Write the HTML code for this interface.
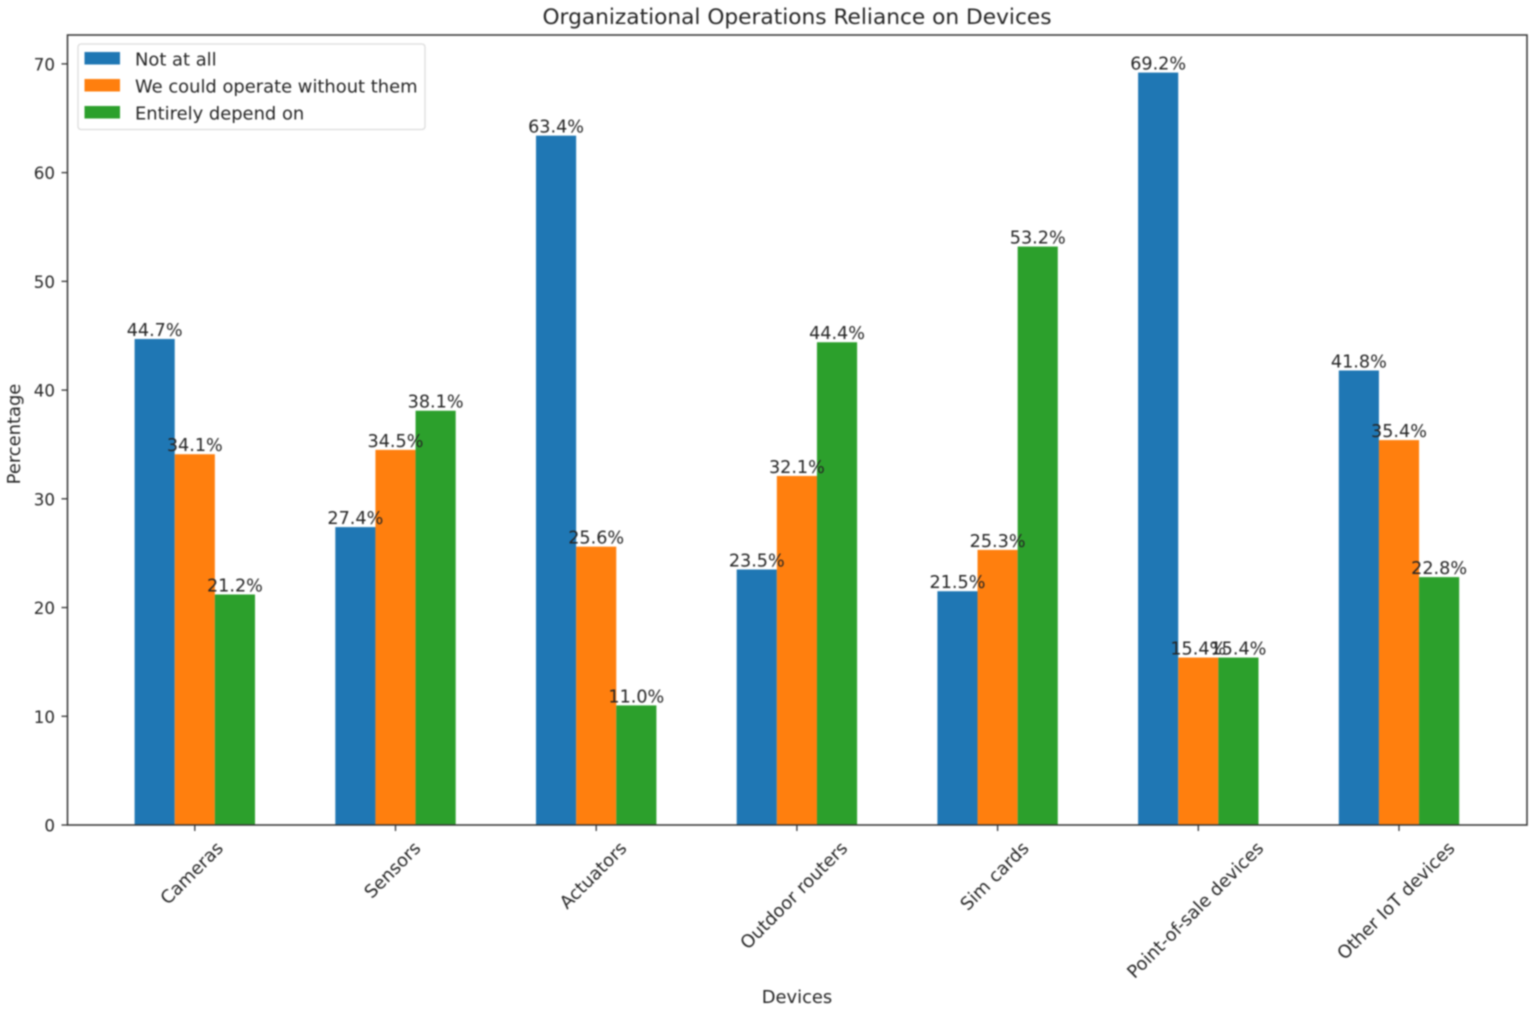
<!DOCTYPE html>
<html lang="en">
<head>
<meta charset="utf-8">
<title>Organizational Operations Reliance on Devices</title>
<style>
html,body{margin:0;padding:0;background:#fff;width:1535px;height:1012px;overflow:hidden}
svg{display:block;font-family:"DejaVu Sans","Liberation Sans",sans-serif;fill:#262626}
#blurred{filter:blur(0.7px)}
</style>
</head>
<body>
<svg id="chart" width="1535" height="1012" viewBox="0 0 1535 1012" xmlns="http://www.w3.org/2000/svg">
<g id="blurred"></g>
</svg>
<script>
const categories = ["Cameras","Sensors","Actuators","Outdoor routers","Sim cards","Point-of-sale devices","Other IoT devices"];
const notAtAll = [44.7,27.4,63.4,23.5,21.5,69.2,41.8];
const couldOperate = [34.1,34.5,25.6,32.1,25.3,15.4,35.4];
const entirelyDepend = [21.2,38.1,11.0,44.4,53.2,15.4,22.8];
const seriesNames = ["Not at all","We could operate without them","Entirely depend on"];
const yTicks = [0,10,20,30,40,50,60,70];

const seriesValues = [notAtAll, couldOperate, entirelyDepend];
const seriesColors = ["#1f77b4","#ff7f0e","#2ca02c"];
const NS = "http://www.w3.org/2000/svg";
const root = document.getElementById("blurred");
const L = 67.5, R = 1527, T = 35, B = 825;
const FS = 17.9;
const YFS = 16.7;
const yScale = v => 825 - v * 10.873;
const xScale = i => 194.8 + i * 200.7;
const BW = 40.13;

function make(tag, attrs, parent) {
  const el = document.createElementNS(NS, tag);
  for (const k in attrs) el.setAttribute(k, attrs[k]);
  (parent || root).appendChild(el);
  return el;
}
function label(str, x, y, size, anchor, parent) {
  const t = make("text", {x: x, y: y, "font-size": size, "text-anchor": anchor}, parent);
  t.textContent = str;
  return t;
}

seriesValues.forEach((values, s) => {
  const g = make("g", {});
  
  
  values.forEach((v, i) => {
    const cx = xScale(i) + (s - 1) * BW;
    const bar = make("rect", {x: cx - BW / 2, y: yScale(v), width: BW, height: yScale(0) - yScale(v), fill: seriesColors[s]}, g);
    
    
  });
});

seriesValues.forEach((values, s) => {
  values.forEach((v, i) => {
    const cx = xScale(i) + (s - 1) * BW;
    const t = label(v.toFixed(1) + "%", cx, yScale(v) - 3, 17.6, "middle");
    
    
  });
});

const frame = make("rect", {x: L, y: T, width: R - L, height: B - T, fill: "none", stroke: "#333", "stroke-width": 1.5});



yTicks.forEach(v => {
  const y = yScale(v);
  const tick = make("line", {x1: L - 6, x2: L, y1: y, y2: y, stroke: "#333", "stroke-width": 1.3});
  
  
  const t = label(String(v), L - 12.5, y + 6.5, YFS, "end");
  
  
});

categories.forEach((c, i) => {
  const x = xScale(i);
  const tick = make("line", {x1: x, x2: x, y1: B, y2: B + 6, stroke: "#333", "stroke-width": 1.3});
  
  
  const t = label(c, x, 0, FS, "middle");
  
  
  const len = t.getComputedTextLength();
  const half = (len + 20) * Math.SQRT1_2 / 2;
  const cy = 838 + half;
  t.setAttribute("x", x - 3);
  t.setAttribute("y", cy + 6);
  t.setAttribute("transform", "rotate(-45 " + (x - 3) + " " + cy + ")");
});

const title = label("Organizational Operations Reliance on Devices", 797, 24, 21.7, "middle");



const xTitle = label("Devices", 797, 1003, FS, "middle");



const yTitle = label("Percentage", 0, 0, FS, "middle");
yTitle.setAttribute("transform", "translate(20 434) rotate(-90)");



const legend = make("g", {});


const legendBox = make("rect", {x: 78, y: 44, width: 347, height: 85.5, rx: 3, fill: "#fff", "fill-opacity": 0.85, stroke: "#dcdcdc", "stroke-width": 1.3}, legend);


seriesNames.forEach((n, s) => {
  const y = 52 + s * 27;
  const swatch = make("rect", {x: 84.5, y: y, width: 35.5, height: 12.5, fill: seriesColors[s]}, legend);
  
  
  const t = label(n, 135, y + 13.5, FS, "start", legend);
  
  
});
</script>
</body>
</html>
